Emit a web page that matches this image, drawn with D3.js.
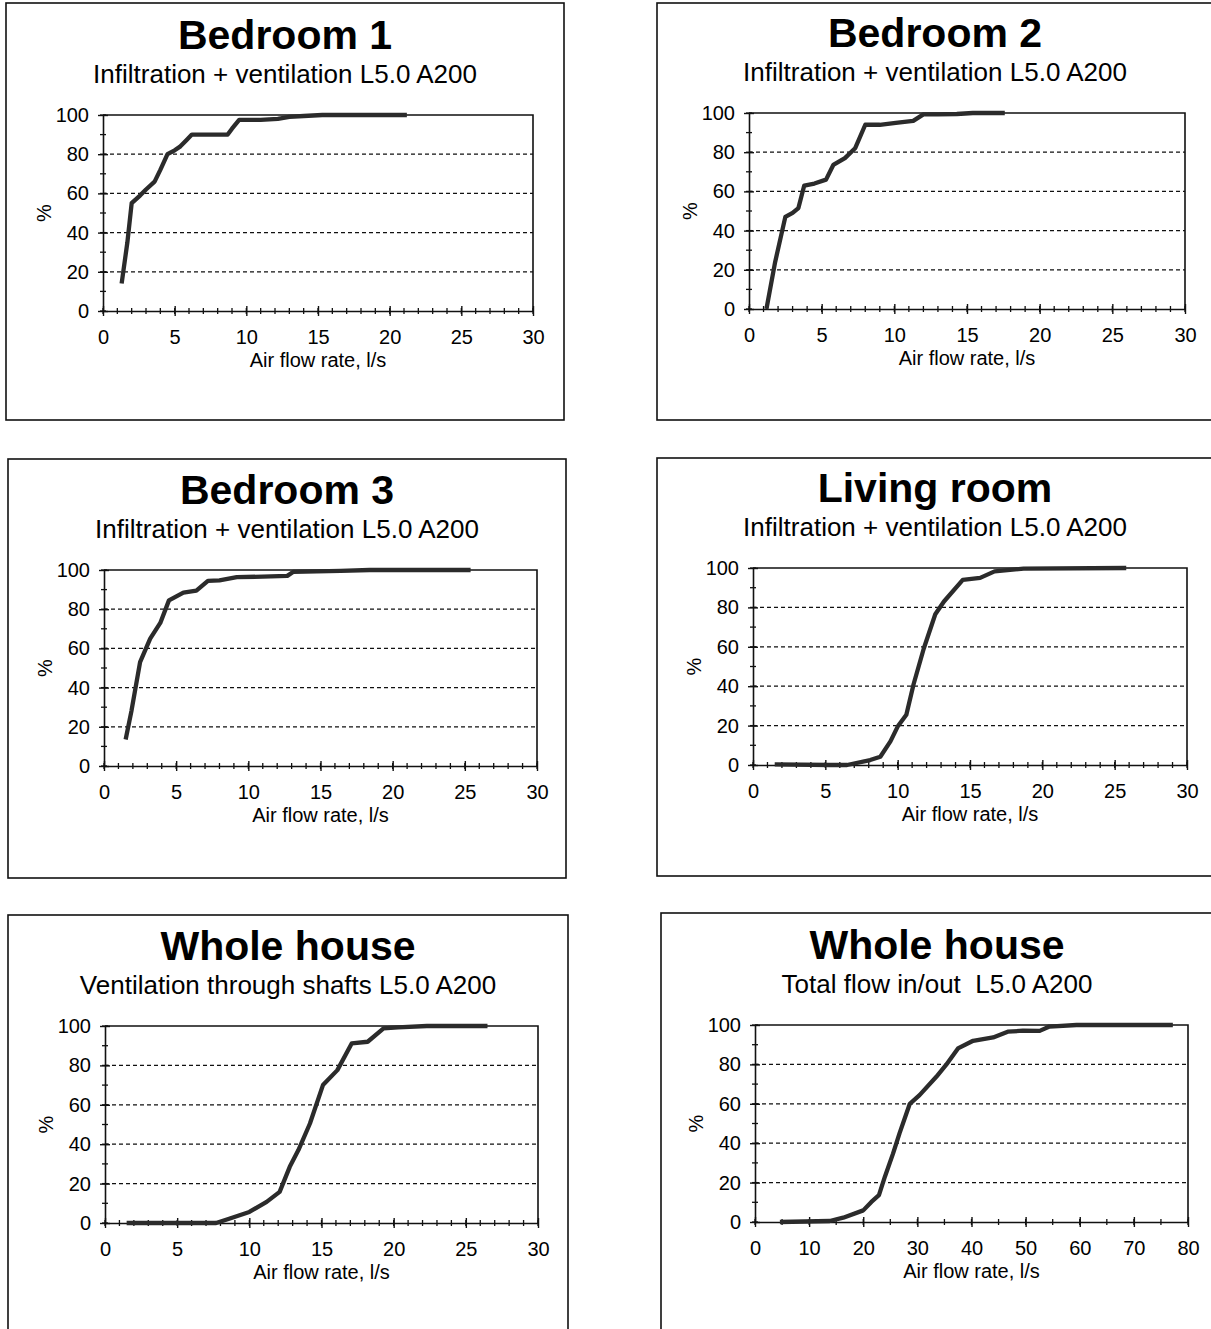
<!DOCTYPE html>
<html>
<head>
<meta charset="utf-8">
<script src="https://cdn.jsdelivr.net/npm/d3@7"></script>
<style>
  body { margin: 0; background: #fff; }
  svg { display: block; }
  text { font-family: "Liberation Sans", Arial, sans-serif; fill: #000; white-space: pre; }
</style>
</head>
<body>
<svg id="chart" width="1211" height="1329"></svg>
<script>
// Cumulative distributions of air flow rate (x: l/s, y: % of time at or below)
const bedroom1Flow = [1.3, 1.7, 2.0, 2.6, 3.0, 3.6, 4.0, 4.5, 5.0, 5.4, 5.8, 6.2, 7.0, 8.0, 8.7, 9.0, 9.5, 10.0, 11.0, 12.2, 13.0, 14.0, 15.3, 18.0, 21.2];
const bedroom1Pct  = [14, 35, 55, 59, 62, 66, 72, 80, 82, 84, 87, 90, 90, 90, 90, 93, 97.5, 97.5, 97.5, 98, 99, 99.5, 100, 100, 100];

const bedroom2Flow = [1.2, 1.8, 2.5, 3.0, 3.4, 3.8, 4.5, 5.3, 5.8, 6.6, 7.3, 8.0, 9.0, 10.1, 11.3, 12.0, 13.0, 14.3, 15.4, 17.6];
const bedroom2Pct  = [0, 24, 47, 49, 51.5, 63, 64, 66, 73.5, 77, 82, 94, 94, 95, 96, 99.3, 99.3, 99.5, 100, 100];

const bedroom3Flow = [1.5, 1.9, 2.5, 3.2, 3.9, 4.5, 5.5, 6.4, 7.2, 8.0, 9.2, 11.0, 12.7, 13.1, 16.4, 18.4, 20.3, 25.4];
const bedroom3Pct  = [13.5, 28, 53, 65, 73, 84.5, 88.5, 89.5, 94.5, 94.7, 96.4, 96.6, 97, 99, 99.6, 100, 100, 100];

const livingFlow = [1.5, 5.3, 6.5, 8.1, 8.8, 9.5, 10.0, 10.6, 11.1, 11.8, 12.6, 13.2, 14.5, 15.7, 16.7, 18.7, 25.8];
const livingPct  = [0.3, 0, 0, 2.5, 4.2, 12, 19.5, 25.5, 41, 59, 76.5, 83, 94, 95, 98.3, 99.7, 100];

const shaftsFlow = [1.5, 7.7, 8.6, 10.0, 11.2, 12.1, 12.8, 13.4, 14.2, 15.1, 16.1, 17.1, 18.2, 19.3, 20.3, 22.3, 26.5];
const shaftsPct  = [0, 0, 2.2, 5.6, 10.7, 15.8, 28.5, 37, 50.5, 70, 77.6, 91.2, 92, 98.8, 99.3, 100, 100];

const totalFlow = [4.6, 13.8, 16.3, 20.0, 21.5, 22.9, 24.0, 25.5, 26.7, 28.6, 30.4, 33.5, 35.3, 37.5, 40.3, 44.0, 46.7, 49.5, 52.6, 54.4, 59.4, 77.2];
const totalPct  = [0, 0.5, 2.2, 5.9, 10.2, 13.6, 23, 34.7, 45, 60, 64.4, 73.7, 79.7, 88.1, 92, 93.7, 96.6, 97.1, 97, 99.2, 100, 100];

// Axis tick values
const percentTicks = [0, 20, 40, 60, 80, 100];
const percentGrid = [20, 40, 60, 80];
const flowTicks30 = [0, 5, 10, 15, 20, 25, 30];
const flowTicks80 = [0, 10, 20, 30, 40, 50, 60, 70, 80];

const titleSub = "Infiltration + ventilation L5.0 A200";

// Panel layout: frame box and plot area in page pixels
const panels = [
  { title: "Bedroom 1", subtitle: titleSub, flow: bedroom1Flow, pct: bedroom1Pct,
    xMax: 30, xTicks: flowTicks30, minorStep: 1,
    frame: [6, 3, 564, 420], plot: [103, 115, 533, 311] },
  { title: "Bedroom 2", subtitle: titleSub, flow: bedroom2Flow, pct: bedroom2Pct,
    xMax: 30, xTicks: flowTicks30, minorStep: 1,
    frame: [657, 3, 1214, 420], plot: [749, 113, 1185, 309] },
  { title: "Bedroom 3", subtitle: titleSub, flow: bedroom3Flow, pct: bedroom3Pct,
    xMax: 30, xTicks: flowTicks30, minorStep: 1,
    frame: [8, 459, 566, 878], plot: [104, 570, 537, 766] },
  { title: "Living room", subtitle: titleSub, flow: livingFlow, pct: livingPct,
    xMax: 30, xTicks: flowTicks30, minorStep: 1,
    frame: [657, 458, 1214, 876], plot: [753, 568, 1187, 765] },
  { title: "Whole house", subtitle: "Ventilation through shafts L5.0 A200", flow: shaftsFlow, pct: shaftsPct,
    xMax: 30, xTicks: flowTicks30, minorStep: 1,
    frame: [8, 915, 568, 1335], plot: [105, 1026, 538, 1223] },
  { title: "Whole house", subtitle: "Total flow in/out  L5.0 A200", flow: totalFlow, pct: totalPct,
    xMax: 80, xTicks: flowTicks80, minorStep: 5,
    frame: [661, 913, 1214, 1335], plot: [755, 1025, 1188, 1222] }
];

const svg = d3.select("#chart");

panels.forEach(p => {
  const [fx0, fy0, fx1, fy1] = p.frame;
  const [pl, pt, pr, pb] = p.plot;
  const g = svg.append("g");

  // Outer chart frame
  g.append("rect")
    .attr("x", fx0).attr("y", fy0)
    .attr("width", fx1 - fx0).attr("height", fy1 - fy0)
    .attr("fill", "none").attr("stroke", "#111").attr("stroke-width", 1.6);

  const cx = (fx0 + Math.min(fx1, 1213)) / 2;

  g.append("text")
    .attr("x", cx).attr("y", pt - 66)
    .attr("text-anchor", "middle")
    .attr("font-size", 41).attr("font-weight", "bold")
    .text(p.title);

  g.append("text")
    .attr("x", cx).attr("y", pt - 32)
    .attr("text-anchor", "middle")
    .attr("font-size", 26)
    .text(p.subtitle);

  const x = d3.scaleLinear().domain([0, p.xMax]).range([pl, pr]);
  const y = d3.scaleLinear().domain([0, 100]).range([pb, pt]);

  // Dashed horizontal gridlines
  g.append("g").selectAll("line").data(percentGrid).join("line")
    .attr("x1", pl).attr("x2", pr)
    .attr("y1", d => y(d)).attr("y2", d => y(d))
    .attr("stroke", "#111").attr("stroke-width", 1.3)
    .attr("stroke-dasharray", "4,3");

  // Top and right border of plot area
  g.append("path")
    .attr("d", `M${pl},${pt}H${pr}V${pb}`)
    .attr("fill", "none").attr("stroke", "#111").attr("stroke-width", 1.6);

  // Minor ticks (cross the axis lines)
  const xMinor = d3.range(0, p.xMax + 0.001, p.minorStep);
  g.append("g").selectAll("line").data(xMinor).join("line")
    .attr("x1", d => x(d)).attr("x2", d => x(d))
    .attr("y1", pb - 3).attr("y2", pb + 3)
    .attr("stroke", "#111").attr("stroke-width", 1.3);
  const yMinor = d3.range(0, 101, 10);
  g.append("g").selectAll("line").data(yMinor).join("line")
    .attr("x1", pl - 3).attr("x2", pl + 3)
    .attr("y1", d => y(d)).attr("y2", d => y(d))
    .attr("stroke", "#111").attr("stroke-width", 1.3);

  // X axis
  const xAxis = d3.axisBottom(x).tickValues(p.xTicks).tickFormat(d3.format("d"))
    .tickSizeInner(5).tickSizeOuter(0).tickPadding(14);
  const xg = g.append("g").attr("transform", `translate(0,${pb})`).call(xAxis);
  xg.select(".domain").attr("stroke", "#111").attr("stroke-width", 1.6);
  xg.selectAll(".tick line").attr("y1", -5).attr("stroke", "#111").attr("stroke-width", 1.4);
  xg.selectAll(".tick text").attr("font-size", 20).attr("fill", "#000")
    .attr("font-family", '"Liberation Sans", Arial, sans-serif');

  // Y axis
  const yAxis = d3.axisLeft(y).tickValues(percentTicks).tickFormat(d3.format("d"))
    .tickSizeInner(5).tickSizeOuter(0).tickPadding(9);
  const yg = g.append("g").attr("transform", `translate(${pl},0)`).call(yAxis);
  yg.select(".domain").attr("stroke", "#111").attr("stroke-width", 1.6);
  yg.selectAll(".tick line").attr("x1", 5).attr("stroke", "#111").attr("stroke-width", 1.4);
  yg.selectAll(".tick text").attr("font-size", 20).attr("fill", "#000")
    .attr("font-family", '"Liberation Sans", Arial, sans-serif');

  // Axis titles
  g.append("text")
    .attr("x", (pl + pr) / 2).attr("y", pb + 56)
    .attr("text-anchor", "middle").attr("font-size", 20)
    .text("Air flow rate, l/s");
  g.append("text")
    .attr("transform", `translate(${pl - 52},${(pt + pb) / 2}) rotate(-90)`)
    .attr("text-anchor", "middle").attr("font-size", 20)
    .text("%");

  // Distribution curve
  const pts = p.flow.map((f, i) => [f, p.pct[i]]);
  g.append("path")
    .datum(pts)
    .attr("d", d3.line().x(d => x(d[0])).y(d => y(d[1])))
    .attr("fill", "none")
    .attr("stroke", "#2b2b2b").attr("stroke-width", 4.3)
    .attr("stroke-linejoin", "round").attr("stroke-linecap", "butt");
});
</script>
</body>
</html>
